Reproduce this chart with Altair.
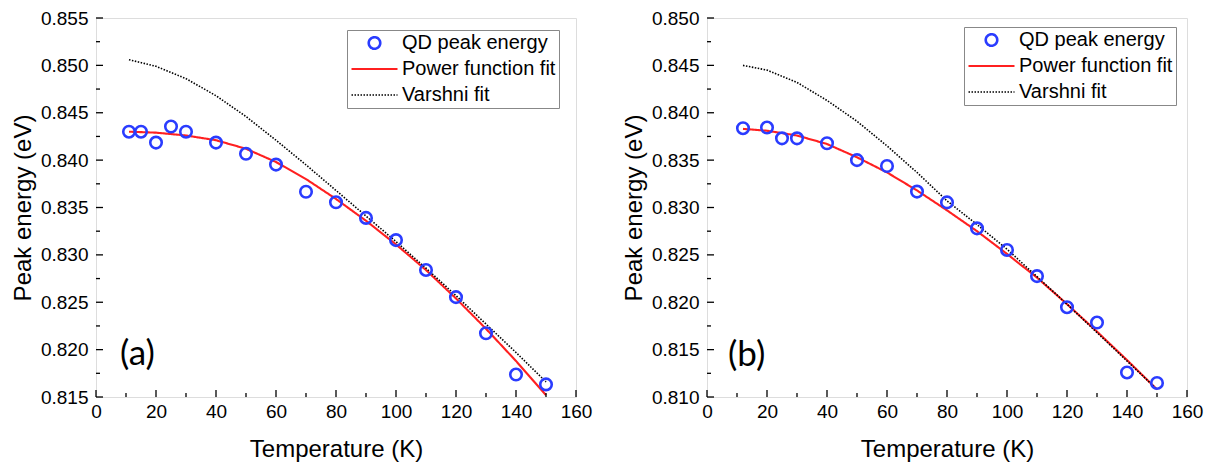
import altair as alt
import pandas as pd

SERIES = ["QD peak energy", "Power function fit", "Varshni fit"]
BLUE = "#2a3cff"
RED = "#ff2020"
FONT = "Liberation Sans"

# ---- panel (a) ----
temp_a = [11, 15, 20, 25, 30, 40, 50, 60, 70, 80, 90, 100, 110, 120, 130, 140, 150]
peak_a = [0.8430, 0.8430, 0.84185, 0.84355, 0.8430, 0.84185, 0.84067, 0.83953, 0.83666,
          0.83555, 0.8339, 0.83156, 0.82841, 0.82554, 0.82173, 0.81737, 0.81633]
fit_t_a = [11, 20, 30, 40, 50, 60, 70, 80, 90, 100, 110, 120, 130, 140, 150]
power_a = [0.8430, 0.8429, 0.8426, 0.8421, 0.8412, 0.8398, 0.8380, 0.8359, 0.8336,
           0.8311, 0.8284, 0.8254, 0.8222, 0.8188, 0.8152]
varshni_a = [0.8506, 0.8499, 0.8486, 0.8468, 0.8446, 0.8421, 0.8395, 0.8368, 0.8341,
             0.8314, 0.8286, 0.8257, 0.8227, 0.8197, 0.8166]

# ---- panel (b) ----
temp_b = [12, 20, 25, 30, 40, 50, 60, 70, 80, 90, 100, 110, 120, 130, 140, 150]
peak_b = [0.83837, 0.83844, 0.8373, 0.8373, 0.83678, 0.8350, 0.83438, 0.83168, 0.83054,
          0.8278, 0.82552, 0.82276, 0.81948, 0.81786, 0.81259, 0.81148]
fit_t_b = [12, 20, 30, 40, 50, 60, 70, 80, 90, 100, 110, 120, 130, 140, 150]
power_b = [0.8383, 0.8381, 0.8376, 0.8367, 0.8353, 0.8337, 0.8318, 0.8297, 0.8275,
           0.8251, 0.8226, 0.8198, 0.8169, 0.8139, 0.8108]
varshni_b = [0.8450, 0.8445, 0.8432, 0.8413, 0.8391, 0.8365, 0.8337, 0.8307, 0.8282,
             0.8256, 0.8227, 0.8198, 0.8168, 0.8138, 0.8108]

x_major = [0, 20, 40, 60, 80, 100, 120, 140, 160]
x_minor = [10, 30, 50, 70, 90, 110, 130, 150]
y_major_a = [0.815, 0.820, 0.825, 0.830, 0.835, 0.840, 0.845, 0.850, 0.855]
y_minor_a = [0.8175, 0.8225, 0.8275, 0.8325, 0.8375, 0.8425, 0.8475, 0.8525]
y_major_b = [0.810, 0.815, 0.820, 0.825, 0.830, 0.835, 0.840, 0.845, 0.850]
y_minor_b = [0.8125, 0.8175, 0.8225, 0.8275, 0.8325, 0.8375, 0.8425, 0.8475]

W, H = 480, 379
CIRCLE = "M-0.25,0A0.25,0.25 0 1,0 0.25,0A0.25,0.25 0 1,0 -0.25,0Z"


def panel(temps, peaks, fit_t, power, varshni, ymaj, ymin_ticks, tag, tag_x, tag_y, lx, ly):
    pts = pd.DataFrame({"T": temps, "E": peaks, "series": [SERIES[0]] * len(temps)})
    fits = pd.DataFrame({
        "T": fit_t + fit_t,
        "E": power + varshni,
        "series": [SERIES[1]] * len(fit_t) + [SERIES[2]] * len(fit_t),
    })
    xs = alt.Scale(domain=[0, 160], nice=False, zero=False)
    ys = alt.Scale(domain=[ymaj[0], ymaj[-1]], nice=False, zero=False)
    leg = alt.Legend(
        title=None, orient="none", legendX=lx, legendY=ly,
        labelFont=FONT, labelFontSize=20, labelColor="black", labelOffset=3,
        clipHeight=20, rowPadding=6, padding=3,
        strokeColor="#888888", fillColor="white", symbolSize=2116, symbolOpacity=1,
    )
    color = alt.Color("series:N", scale=alt.Scale(domain=SERIES, range=[BLUE, RED, "black"]), legend=leg)
    shape = alt.Shape("series:N", scale=alt.Scale(domain=SERIES, range=[CIRCLE, "stroke", "stroke"]), legend=leg)
    dash = alt.StrokeDash("series:N", scale=alt.Scale(domain=SERIES, range=[[1, 0], [1, 0], [1.5, 1.5]]), legend=leg)
    sw = alt.StrokeWidth("series:N", scale=alt.Scale(domain=SERIES, range=[2.6, 1.6, 1.2]), legend=leg)

    xax = alt.Axis(values=x_major, format="d", title="Temperature (K)", ticks=False, domain=False,
                   grid=False, labelFlush=False, labelFont=FONT, labelFontSize=19, labelColor="black",
                   labelPadding=5, titleFont=FONT, titleFontSize=24, titleFontWeight="normal",
                   titleColor="black", titlePadding=16)
    yax = alt.Axis(values=ymaj, format=".3f", title="Peak energy (eV)", ticks=False, domain=False,
                   grid=False, labelFlush=False, labelFont=FONT, labelFontSize=19, labelColor="black",
                   labelPadding=8, titleFont=FONT, titleFontSize=24, titleFontWeight="normal",
                   titleColor="black", titlePadding=5)

    lines = alt.Chart(fits).mark_line(clip=True, opacity=1).encode(
        x=alt.X("T:Q", scale=xs, axis=xax),
        y=alt.Y("E:Q", scale=ys, axis=yax),
        color=color, strokeDash=dash, strokeWidth=sw,
        order="T:Q",
    )
    points = alt.Chart(pts).mark_point(filled=False, size=2116, clip=True, opacity=1).encode(
        x="T:Q", y="E:Q", color=color, shape=shape, strokeWidth=sw,
    )
    tagdf = pd.DataFrame({"T": [tag_x], "E": [tag_y], "t": [tag]})
    tagtext = alt.Chart(tagdf).mark_text(font="Lato", fontSize=35, align="left",
                                         baseline="middle", color="black").encode(
        x="T:Q", y="E:Q", text="t:N")

    xmaj = alt.Chart(pd.DataFrame({"v": x_major})).mark_rule(color="black", strokeWidth=1.3).encode(
        x="v:Q", y=alt.value(H), y2=alt.value(H - 7))
    xmin = alt.Chart(pd.DataFrame({"v": x_minor})).mark_rule(color="black", strokeWidth=1.3).encode(
        x="v:Q", y=alt.value(H), y2=alt.value(H - 4))
    ymj = alt.Chart(pd.DataFrame({"v": ymaj})).mark_rule(color="black", strokeWidth=1.3).encode(
        y="v:Q", x=alt.value(0), x2=alt.value(7))
    ymn = alt.Chart(pd.DataFrame({"v": ymin_ticks})).mark_rule(color="black", strokeWidth=1.3).encode(
        y="v:Q", x=alt.value(0), x2=alt.value(4))

    return alt.layer(lines, points, tagtext, xmaj, xmin, ymj, ymn).properties(width=W, height=H)


left = panel(temp_a, peak_a, fit_t_a, power_a, varshni_a, y_major_a, y_minor_a,
             "(a)", 8, 0.8195, 251, 12)
right = panel(temp_b, peak_b, fit_t_b, power_b, varshni_b, y_major_b, y_minor_b,
              "(b)", 7, 0.8144, 257, 9)

chart = alt.hconcat(left, right, spacing=28).resolve_scale(
    color="independent", shape="independent", strokeDash="independent",
    strokeWidth="independent", x="independent", y="independent",
).resolve_legend(
    color="independent", shape="independent", strokeDash="independent", strokeWidth="independent"
).properties(
    padding={"left": 2, "top": 0, "right": 0, "bottom": 0}
).configure_view(stroke="black", strokeWidth=1.5).configure(background="white")

chart.save("out.html", embed_options={"renderer": "svg", "actions": False})
